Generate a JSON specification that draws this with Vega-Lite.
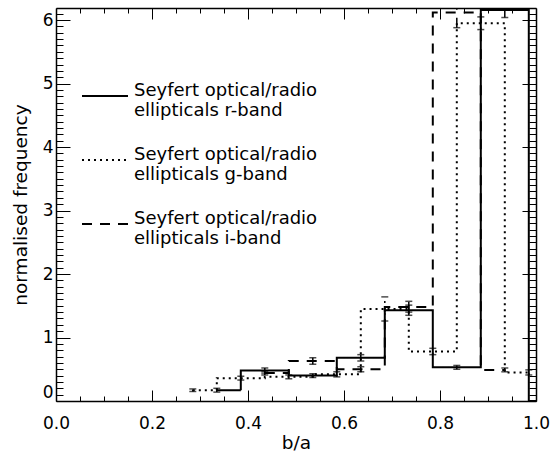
{
  "$schema": "https://vega.github.io/schema/vega-lite/v6.json",
  "width": 480,
  "height": 393,
  "autosize": {"type": "none"},
  "padding": {"left": 56, "top": 8, "right": 15, "bottom": 52},
  "background": "white",
  "config": {
    "view": {"stroke": null},
    "font": "DejaVu Sans",
    "axis": {"grid": false, "domainColor": "black", "domainWidth": 1.5, "tickColor": "black", "tickWidth": 1, "labelColor": "black", "titleColor": "black", "labelFont": "DejaVu Sans", "titleFont": "DejaVu Sans", "titleFontWeight": "normal", "labelOverlap": false}
  },
  "datasets": {
    "lines": [
      {"band": "r", "x": 0.335, "y": 0.17},
      {"band": "r", "x": 0.435, "y": 0.48},
      {"band": "r", "x": 0.535, "y": 0.40},
      {"band": "r", "x": 0.635, "y": 0.68},
      {"band": "r", "x": 0.735, "y": 1.43},
      {"band": "r", "x": 0.835, "y": 0.53},
      {"band": "r", "x": 0.935, "y": 6.16},
      {"band": "r", "x": 1.035, "y": 0.0},
      {"band": "g", "x": 0.285, "y": 0.17},
      {"band": "g", "x": 0.385, "y": 0.36},
      {"band": "g", "x": 0.485, "y": 0.38},
      {"band": "g", "x": 0.585, "y": 0.42},
      {"band": "g", "x": 0.685, "y": 1.45},
      {"band": "g", "x": 0.785, "y": 0.78},
      {"band": "g", "x": 0.885, "y": 5.95},
      {"band": "g", "x": 0.985, "y": 0.45},
      {"band": "i", "x": 0.435, "y": 0.44},
      {"band": "i", "x": 0.535, "y": 0.63},
      {"band": "i", "x": 0.635, "y": 0.50},
      {"band": "i", "x": 0.735, "y": 1.48},
      {"band": "i", "x": 0.835, "y": 6.12},
      {"band": "i", "x": 0.935, "y": 0.49}
    ],
    "errs": [
      {"band": "r", "x": 0.335, "lo": 0.14, "hi": 0.20},
      {"band": "r", "x": 0.435, "lo": 0.44, "hi": 0.52},
      {"band": "r", "x": 0.535, "lo": 0.37, "hi": 0.43},
      {"band": "r", "x": 0.635, "lo": 0.63, "hi": 0.73},
      {"band": "r", "x": 0.735, "lo": 1.35, "hi": 1.51},
      {"band": "r", "x": 0.835, "lo": 0.50, "hi": 0.56},
      {"band": "r", "x": 0.935, "lo": 6.04, "hi": 6.28},
      {"band": "g", "x": 0.285, "lo": 0.15, "hi": 0.19},
      {"band": "g", "x": 0.385, "lo": 0.33, "hi": 0.39},
      {"band": "g", "x": 0.485, "lo": 0.35, "hi": 0.41},
      {"band": "g", "x": 0.585, "lo": 0.38, "hi": 0.46},
      {"band": "g", "x": 0.685, "lo": 1.26, "hi": 1.64},
      {"band": "g", "x": 0.785, "lo": 0.73, "hi": 0.83},
      {"band": "g", "x": 0.885, "lo": 5.85, "hi": 6.05},
      {"band": "g", "x": 0.985, "lo": 0.41, "hi": 0.49},
      {"band": "i", "x": 0.435, "lo": 0.41, "hi": 0.47},
      {"band": "i", "x": 0.535, "lo": 0.58, "hi": 0.68},
      {"band": "i", "x": 0.635, "lo": 0.46, "hi": 0.54},
      {"band": "i", "x": 0.735, "lo": 1.40, "hi": 1.57},
      {"band": "i", "x": 0.835, "lo": 5.88, "hi": 6.36},
      {"band": "i", "x": 0.935, "lo": 0.46, "hi": 0.52}
    ]
  },
  "resolve": {"axis": {"x": "independent", "y": "independent"}},
  "layer": [
    {
      "data": {"name": "lines"},
      "mark": {"type": "line", "interpolate": "step", "color": "black", "strokeWidth": 2, "clip": true},
      "encoding": {
        "x": {"field": "x", "type": "quantitative", "scale": {"domain": [0, 1], "nice": false, "zero": false},
          "axis": {"orient": "bottom", "title": "b/a", "titleFontSize": 18.5, "titlePadding": -4,
            "values": [0, 0.05, 0.1, 0.15, 0.2, 0.25, 0.3, 0.35, 0.4, 0.45, 0.5, 0.55, 0.6, 0.65, 0.7, 0.75, 0.8, 0.85, 0.9, 0.95, 1.0],
            "labelExpr": "abs(datum.value*5 - round(datum.value*5)) < 0.001 ? format(datum.value, '.1f') : ''",
            "labelFontSize": 17, "labelFlush": false, "labelPadding": 25,
            "tickSize": {"condition": {"test": "abs(datum.value*5 - round(datum.value*5)) < 0.001", "value": -11}, "value": -5}}},
        "y": {"field": "y", "type": "quantitative", "scale": {"domain": [0, 6.19], "nice": false, "zero": false},
          "axis": {"orient": "left", "title": "normalised frequency", "titleFontSize": 18.5, "titlePadding": 12,
            "values": [0,0.1,0.2,0.3,0.4,0.5,0.6,0.7,0.8,0.9,1,1.1,1.2,1.3,1.4,1.5,1.6,1.7,1.8,1.9,2,2.1,2.2,2.3,2.4,2.5,2.6,2.7,2.8,2.9,3,3.1,3.2,3.3,3.4,3.5,3.6,3.7,3.8,3.9,4,4.1,4.2,4.3,4.4,4.5,4.6,4.7,4.8,4.9,5,5.1,5.2,5.3,5.4,5.5,5.6,5.7,5.8,5.9,6,6.1],
            "labelExpr": "abs(datum.value - round(datum.value)) < 0.001 ? format(datum.value, 'd') : ''",
            "labelFontSize": 17, "labelFlush": true, "labelPadding": 17,
            "tickSize": {"condition": {"test": "abs(datum.value - round(datum.value)) < 0.001", "value": -14}, "value": -7}}},
        "strokeDash": {"field": "band", "type": "nominal",
          "scale": {"domain": ["r", "g", "i"], "range": [[1, 0], [2, 4], [10, 8]]},
          "legend": {"orient": "none", "legendX": 25, "legendY": 64, "title": null, "padding": 0,
            "symbolType": "stroke", "symbolSize": 2116, "symbolStrokeWidth": 2, "symbolStrokeColor": "black",
            "labelFontSize": 18, "labelFont": "DejaVu Sans", "labelColor": "black", "labelBaseline": "alphabetic",
            "labelOffset": 5, "rowPadding": 16, "labelLimit": 400,
            "labelExpr": "['Seyfert optical/radio', 'ellipticals ' + datum.label + '-band']"}}
      }
    },
    {
      "data": {"name": "errs"},
      "mark": {"type": "rule", "color": "black", "strokeWidth": 1.5, "clip": true},
      "encoding": {
        "x": {"field": "x", "type": "quantitative",
          "axis": {"orient": "top", "title": null, "labels": false,
            "values": [0, 0.05, 0.1, 0.15, 0.2, 0.25, 0.3, 0.35, 0.4, 0.45, 0.5, 0.55, 0.6, 0.65, 0.7, 0.75, 0.8, 0.85, 0.9, 0.95, 1.0],
            "tickSize": {"condition": {"test": "abs(datum.value*5 - round(datum.value*5)) < 0.001", "value": -11}, "value": -5}}},
        "y": {"field": "lo", "type": "quantitative",
          "axis": {"orient": "right", "title": null, "labels": false,
            "values": [0,0.1,0.2,0.3,0.4,0.5,0.6,0.7,0.8,0.9,1,1.1,1.2,1.3,1.4,1.5,1.6,1.7,1.8,1.9,2,2.1,2.2,2.3,2.4,2.5,2.6,2.7,2.8,2.9,3,3.1,3.2,3.3,3.4,3.5,3.6,3.7,3.8,3.9,4,4.1,4.2,4.3,4.4,4.5,4.6,4.7,4.8,4.9,5,5.1,5.2,5.3,5.4,5.5,5.6,5.7,5.8,5.9,6,6.1],
            "tickSize": {"condition": {"test": "abs(datum.value - round(datum.value)) < 0.001", "value": -14}, "value": -7}}},
        "y2": {"field": "hi"},
        "strokeDash": {"field": "band", "type": "nominal"}
      }
    },
    {
      "data": {"name": "errs"},
      "mark": {"type": "tick", "orient": "horizontal", "color": "black", "size": 7, "thickness": 1.5, "clip": true},
      "encoding": {
        "x": {"field": "x", "type": "quantitative", "axis": null},
        "y": {"field": "lo", "type": "quantitative", "axis": null}
      }
    },
    {
      "data": {"name": "errs"},
      "mark": {"type": "tick", "orient": "horizontal", "color": "black", "size": 7, "thickness": 1.5, "clip": true},
      "encoding": {
        "x": {"field": "x", "type": "quantitative", "axis": null},
        "y": {"field": "hi", "type": "quantitative", "axis": null}
      }
    }
  ]
}
